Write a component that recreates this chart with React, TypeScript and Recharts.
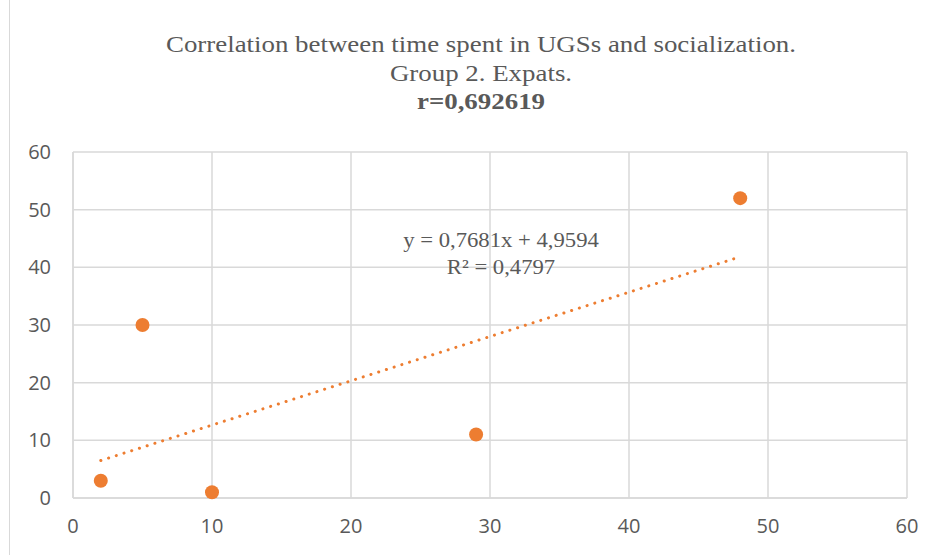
import { ScatterChart, Scatter, XAxis, YAxis, CartesianGrid } from "recharts";

const timeInUGS = [2, 5, 10, 29, 48];
const socialization = [3, 30, 1, 11, 52];
const xTicks = [0, 10, 20, 30, 40, 50, 60];
const yTicks = [0, 10, 20, 30, 40, 50, 60];
const slope = 0.7681;
const intercept = 4.9594;
const trendX = [2, 48];

const points = timeInUGS.map((x, i) => ({ x, y: socialization[i] }));
const trend = trendX.map((x) => ({ x, y: slope * x + intercept }));

const ORANGE = "#ED7D31";
const GRID = "#d9d9d9";
const TEXT = "#595959";

const tickStyle = { fill: TEXT, fontSize: 20, fontFamily: "'Open Sans', sans-serif" };

export default function App() {
  return (
    <div
      style={{
        position: "absolute",
        left: 0,
        top: 0,
        width: 939,
        height: 555,
        background: "#fff",
        overflow: "hidden"
      }}
    >
      <div
        style={{
          position: "absolute",
          left: 9,
          top: 0,
          width: 1,
          height: 555,
          background: GRID
        }}
      />
      <div
        style={{
          position: "absolute",
          left: 0,
          top: 30,
          width: 962,
          textAlign: "center",
          fontFamily: "'Liberation Serif', serif",
          fontSize: 24,
          lineHeight: "28.5px",
          color: TEXT,
          transform: "scaleX(1.12)",
          transformOrigin: "481px 0"
        }}
      >
        <div>Correlation between time spent in UGSs and socialization.</div>
        <div>Group 2. Expats.</div>
        <div style={{ fontWeight: "bold" }}>r=0,692619</div>
      </div>
      <ScatterChart
        width={939}
        height={555}
        margin={{ top: 152, right: 32, bottom: 17, left: 10 }}
      >
        <CartesianGrid stroke={GRID} strokeWidth={1.5} />
        <XAxis
          type="number"
          dataKey="x"
          domain={[0, 60]}
          ticks={xTicks}
          height={40}
          tickLine={false}
          tickSize={0}
          tickMargin={21}
          axisLine={{ stroke: GRID, strokeWidth: 1.5 }}
          tick={tickStyle}
        />
        <YAxis
          type="number"
          dataKey="y"
          domain={[0, 60]}
          ticks={yTicks}
          width={63}
          tickLine={false}
          tickSize={0}
          tickMargin={22}
          axisLine={{ stroke: GRID, strokeWidth: 1.5 }}
          tick={tickStyle}
        />
        <Scatter
          data={trend}
          isAnimationActive={false}
          line={{
            stroke: ORANGE,
            strokeWidth: 3,
            strokeDasharray: "0.1 8",
            strokeLinecap: "round"
          }}
          shape={() => <g />}
        />
        <Scatter
          data={points}
          isAnimationActive={false}
          shape={(p: any) => <circle cx={p.cx} cy={p.cy} r={7} fill={ORANGE} />}
        />
      </ScatterChart>
      <div
        style={{
          position: "absolute",
          left: 301,
          top: 227,
          width: 400,
          textAlign: "center",
          fontFamily: "'Liberation Serif', serif",
          fontSize: 21,
          lineHeight: "27px",
          color: TEXT,
          transform: "scaleX(1.08)",
          transformOrigin: "200px 0"
        }}
      >
        <div>y = 0,7681x + 4,9594</div>
        <div>R² = 0,4797</div>
      </div>
    </div>
  );
}
